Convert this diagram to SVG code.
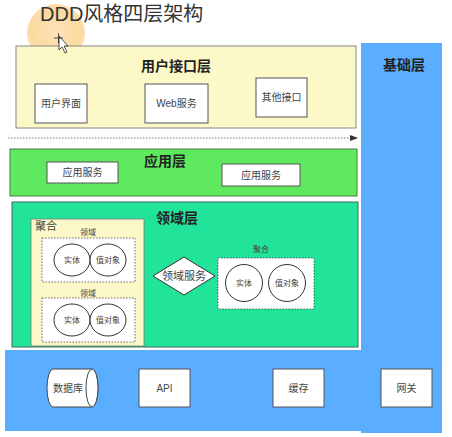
<svg xmlns="http://www.w3.org/2000/svg" width="452" height="437" viewBox="0 0 452 437">
<defs>
<style>
text{font-family:"Liberation Sans","Noto Sans CJK SC",sans-serif;fill:#333}
.title{font-size:20px}
.layer{font-size:14px;font-weight:bold;fill:#222}
.lbl{font-size:10px;fill:#444}
.small{font-size:8px;fill:#444}
.box{fill:#fff;stroke:#555;stroke-width:1}
.dot{fill:#fff;stroke:#444;stroke-width:0.8;stroke-dasharray:1.5 1.5}
.circ{fill:#fff;stroke:#333;stroke-width:1}
</style>
<radialGradient id="hl" cx="0.5" cy="0.5" r="0.5">
<stop offset="0" stop-color="#fde3b8"/>
<stop offset="0.8" stop-color="#fcd9a0"/>
<stop offset="1" stop-color="#fbd08c" stop-opacity="0.7"/>
</radialGradient>
<marker id="arr" markerWidth="8" markerHeight="6" refX="7" refY="3" orient="auto" markerUnits="userSpaceOnUse">
<path d="M0,0 L8,3 L0,6 z" fill="#333"/>
</marker>
</defs>
<rect width="452" height="437" fill="#fff"/>

<g id="highlight">
<circle cx="56" cy="33" r="29" fill="url(#hl)"/>
</g>
<text class="title" x="40" y="21">DDD风格四层架构</text>

<g id="infrastructure">
<rect x="361" y="43" width="81" height="390" fill="#5badff"/>
<rect x="5" y="350" width="437" height="81" fill="#5badff"/>
<text class="layer" x="404" y="70" text-anchor="middle">基础层</text>
</g>

<g id="ui-layer">
<rect x="16" y="46" width="340" height="82" fill="#fdf8c8" stroke="#888" stroke-width="1"/>
<text class="layer" x="176" y="71" text-anchor="middle">用户接口层</text>
</g>
<g id="ui-user"><rect class="box" x="35" y="84" width="52" height="39"/><text class="lbl" x="61" y="107" text-anchor="middle">用户界面</text></g>
<g id="ui-web"><rect class="box" x="145" y="84" width="63" height="39"/><text class="lbl" x="176.5" y="107" text-anchor="middle">Web服务</text></g>
<g id="ui-other"><rect class="box" x="256" y="78" width="51" height="39"/><text class="lbl" x="281.5" y="101" text-anchor="middle">其他接口</text></g>

<g id="connectors">
<line x1="8" y1="138" x2="357" y2="138" stroke="#555" stroke-width="0.8" stroke-dasharray="1.5 1.5" marker-end="url(#arr)"/>
</g>

<g id="app-layer">
<rect x="10" y="149" width="347" height="47" fill="#5ee95e" stroke="#4a7a4a" stroke-width="1"/>
<text class="layer" x="165" y="166" text-anchor="middle">应用层</text>
</g>
<g id="app-svc1"><rect class="box" x="47" y="162" width="71" height="21"/><text class="lbl" x="82.5" y="176" text-anchor="middle">应用服务</text></g>
<g id="app-svc2"><rect class="box" x="222" y="164" width="78" height="22"/><text class="lbl" x="261" y="179" text-anchor="middle">应用服务</text></g>

<g id="domain-layer">
<rect x="12" y="202" width="346" height="145" fill="#22e39a" stroke="#3a6a5a" stroke-width="1"/>
<text class="layer" x="177" y="223" text-anchor="middle">领域层</text>
</g>

<g id="aggregate1">
<rect x="31" y="219" width="113" height="127" fill="#fdf8c8" stroke="#777" stroke-width="0.8"/>
<text x="35" y="230" style="font-size:11px;fill:#444">聚合</text>
<text class="small" x="88" y="235" text-anchor="middle">领域</text>
<rect class="dot" x="42" y="238" width="93" height="44"/>
<ellipse class="circ" cx="72" cy="260" rx="18" ry="16"/>
<ellipse class="circ" cx="108" cy="260" rx="18" ry="16"/>
<text class="small" x="72" y="263" text-anchor="middle">实体</text>
<text class="small" x="108" y="263" text-anchor="middle">值对象</text>
<text class="small" x="88" y="296" text-anchor="middle">领域</text>
<rect class="dot" x="42" y="298" width="93" height="44"/>
<ellipse class="circ" cx="72" cy="320" rx="18" ry="16"/>
<ellipse class="circ" cx="108" cy="320" rx="18" ry="16"/>
<text class="small" x="72" y="323" text-anchor="middle">实体</text>
<text class="small" x="108" y="323" text-anchor="middle">值对象</text>
</g>

<g id="domain-service">
<polygon points="153,276 184,257 215,276 184,295" fill="#fff" stroke="#333" stroke-width="1"/>
<text x="184" y="280" text-anchor="middle" style="font-size:11px;fill:#444">领域服务</text>
</g>

<g id="aggregate2">
<text class="small" x="261" y="252" text-anchor="middle">聚合</text>
<rect class="dot" x="218" y="258" width="96" height="51"/>
<circle class="circ" cx="244" cy="283" r="18.5"/>
<circle class="circ" cx="287" cy="283" r="18.5"/>
<text class="small" x="244" y="286" text-anchor="middle">实体</text>
<text class="small" x="287" y="286" text-anchor="middle">值对象</text>
</g>

<g id="infra-db">
<path d="M53,369 L92,369 A6,19 0 0 1 92,407 L53,407 A6,19 0 0 1 53,369 Z" fill="#fff" stroke="#444" stroke-width="1"/>
<ellipse cx="92" cy="388" rx="6" ry="19" fill="#fff" stroke="#444" stroke-width="1"/>
<text class="lbl" x="68" y="392" text-anchor="middle">数据库</text>
</g>
<g id="infra-api"><rect class="box" x="139" y="369" width="51" height="38"/><text class="lbl" x="164.5" y="392" text-anchor="middle">API</text></g>
<g id="infra-cache"><rect class="box" x="273" y="369" width="51" height="38"/><text class="lbl" x="298.5" y="392" text-anchor="middle">缓存</text></g>
<g id="infra-gw"><rect class="box" x="381" y="369" width="51" height="38"/><text class="lbl" x="406.5" y="392" text-anchor="middle">网关</text></g>

<g id="cursor">
<path d="M59,36 L59,50 L62,47 L65,53 L67,52 L64,46 L68,46 Z" fill="#fff" stroke="#222" stroke-width="0.8"/>
<path d="M54,38 L63,38 M58.5,33 L58.5,43" stroke="#222" stroke-width="0.8"/>
</g>
</svg>
